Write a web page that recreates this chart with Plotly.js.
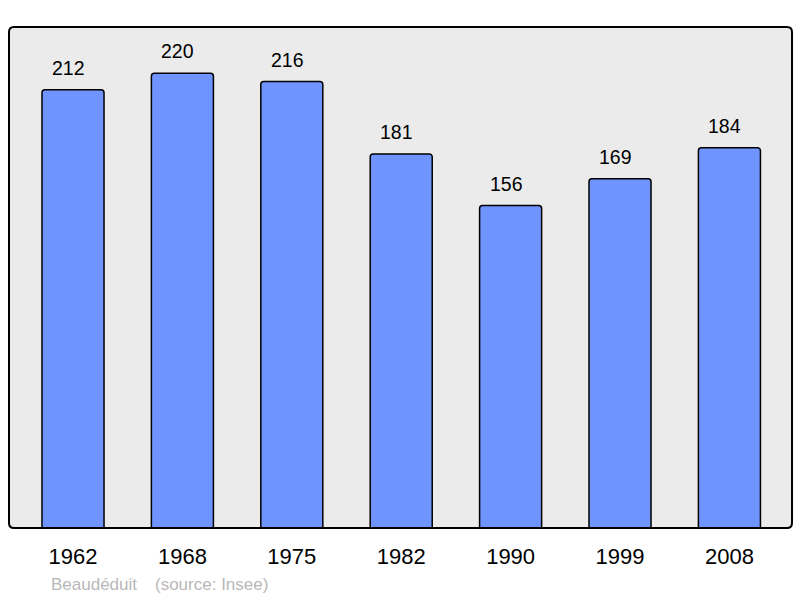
<!DOCTYPE html>
<html>
<head>
<meta charset="utf-8">
<script src="https://cdn.plot.ly/plotly-3.0.1.min.js"></script>
<style>
html,body{margin:0;padding:0;background:#fff;}
#chart{width:800px;height:598px;}
</style>
</head>
<body>
<div id="chart"></div>
<script>
const years = ["1962", "1968", "1975", "1982", "1990", "1999", "2008"];
const population = [212, 220, 216, 181, 156, 169, 184];
const creditAuthor = "Beaudéduit";
const creditSource = "(source: Insee)";

const W = 800, H = 598;
const margin = {l: 9, r: 8, t: 27, b: 70};
const pw = W - margin.l - margin.r, ph = H - margin.t - margin.b;

// rounded frame path in paper coords
const rx = 5 / pw, ry = 5 / ph;
const framePath = `M ${rx},0 L ${1-rx},0 Q 1,0 1,${ry} L 1,${1-ry} Q 1,1 ${1-rx},1 L ${rx},1 Q 0,1 0,${1-ry} L 0,${ry} Q 0,0 ${rx},0 Z`;

const trace = {
  type: 'bar',
  x: years,
  y: population,
  width: 0.567,
  marker: {color: '#7094FF', line: {color: '#000', width: 1.5}, cornerradius: 3},
  hoverinfo: 'none'
};

const annotations = years.map((yr, i) => ({
  x: i, y: population[i], xref: 'x', yref: 'y',
  text: String(population[i]), showarrow: false,
  yanchor: 'middle', yshift: 22, xshift: -4.5,
  font: {family: 'Liberation Sans, Arial, sans-serif', size: 19.5, color: '#000'}
}));
annotations.push({
  xref: 'paper', yref: 'paper', x: (49 - margin.l) / pw, y: -(584 - margin.t - ph) / ph,
  xanchor: 'left', yanchor: 'middle', showarrow: false, text: creditAuthor,
  font: {family: 'Liberation Sans, Arial, sans-serif', size: 17, color: '#B8B8B8'}
});
annotations.push({
  xref: 'paper', yref: 'paper', x: (153 - margin.l) / pw, y: -(584 - margin.t - ph) / ph,
  xanchor: 'left', yanchor: 'middle', showarrow: false, text: creditSource,
  font: {family: 'Liberation Sans, Arial, sans-serif', size: 17, color: '#B8B8B8'}
});

const layout = {
  width: W, height: H,
  margin: margin,
  paper_bgcolor: '#fff',
  plot_bgcolor: 'rgba(0,0,0,0)',
  showlegend: false,
  xaxis: {
    type: 'category', range: [-0.585, 6.572],
    showgrid: false, zeroline: false, showline: false, ticks: '',
    tickfont: {family: 'Liberation Sans, Arial, sans-serif', size: 22, color: '#000'},
    ticklabelstandoff: 13, fixedrange: true
  },
  yaxis: {
    range: [0, 242.4], showgrid: false, zeroline: false, showline: false,
    showticklabels: false, ticks: '', fixedrange: true
  },
  shapes: [
    {type: 'path', xref: 'paper', yref: 'paper', path: framePath,
     fillcolor: '#EBEBEB', line: {width: 0}, layer: 'below'},
    {type: 'path', xref: 'paper', yref: 'paper', path: framePath,
     fillcolor: 'rgba(0,0,0,0)', line: {color: '#000', width: 2}, layer: 'above'}
  ],
  annotations: annotations
};

Plotly.newPlot('chart', [trace], layout, {displayModeBar: false, staticPlot: true});
</script>
</body>
</html>
